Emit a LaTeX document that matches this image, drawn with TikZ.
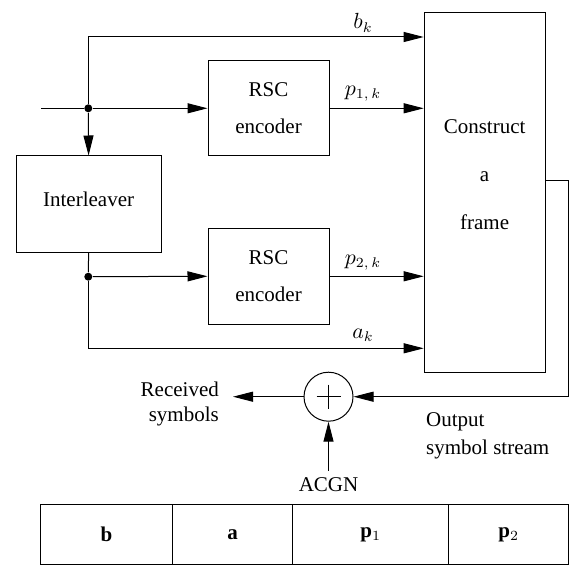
\documentclass[tikz,border=0pt]{standalone}
\usepackage{fontspec}
\setmainfont{Liberation Serif}
\newfontfamily\tnr{Liberation Serif}
\usetikzlibrary{arrows.meta}
\begin{document}
\begin{tikzpicture}[x=0.5pt,y=-0.5pt, line width=0.5pt,
  every node/.style={font=\tnr\fontsize{10.5}{12.6}\selectfont},
  box/.style={draw, inner sep=0pt, align=center},
  arr/.style={-{Triangle[length=10pt,width=5pt]}},
  dotc/.style={circle, fill, inner sep=0pt, minimum size=4pt},
  cell/.style={draw, inner sep=0pt, minimum height=29.8pt}]
\useasboundingbox (0,0) rectangle (576,571);
% blocks
\node[box, minimum width=60.5pt, minimum height=47.7pt, font=\tnr\fontsize{10.5}{18.5}\selectfont] (rsc1) at (268.5,108.3) {RSC\\encoder};
\node[box, minimum width=60.5pt, minimum height=47.7pt, font=\tnr\fontsize{10.5}{18.5}\selectfont] (rsc2) at (268.5,276.3) {RSC\\encoder};
\node[box, minimum width=72.4pt, minimum height=48pt] (inter) at (88.6,204) {};
\node (intertxt) at (88.6,199) {Interleaver};
\node[box, minimum width=60.4pt, minimum height=180pt] (cons) at (484.6,192.7) {};
\node[align=center, font=\tnr\fontsize{10.5}{24}\selectfont] (constxt) at (484.6,175) {Construct\\a\\frame};
\node[draw, circle, minimum size=24.5pt, inner sep=0pt] (sum) at (328.5,396.7) {};
\draw (sum.center) +(-12,0) -- +(12,0);
\draw (sum.center) +(0,-12) -- +(0,12);
% junctions
\node[dotc] (d1) at (88.3,108.3) {};
\node[dotc] (d2) at (88.3,276.7) {};
\coordinate (in) at (41,108.3);
% connectors
\draw (in) -- (d1);
\draw[arr] (d1) -- (rsc1.west);
\draw[arr] (d1) -- (inter.north);
\draw[arr] (d1) |- (cons.west |- 0,37);
\draw (inter.south) -- (d2);
\draw[arr] (d2) -- (rsc2.west);
\draw[arr] (d2) |- (cons.west |- 0,348.3);
\draw[arr] (rsc1.east) -- (rsc1.east -| cons.west);
\draw[arr] (rsc2.east) -- (rsc2.east -| cons.west);
\coordinate (oc) at (568.3,181);
\draw[arr] (cons.east |- oc) -- (oc) |- (sum.east);
\coordinate (rtip) at (233,396.7);
\draw[arr] (sum.west) -- (rtip);
\node (acgn) at (328.5,485) {ACGN};
\draw[arr] (acgn.north) -- (sum.south);
% labels
\node (lbk) at (363,23) {$b_k$};
\node (lp1) at (363,94) {$p_{1,\,k}$};
\node (lp2) at (363,263) {$p_{2,\,k}$};
\node (lak) at (363,335) {$a_k$};
\node[align=right, anchor=base east] (recv) at (226,421.5) {Received\\symbols};
\node[align=left, anchor=base west, font=\tnr\fontsize{10.5}{13.8}\selectfont] (outl) at (419,454) {Output\\symbol stream};
% frame
\node[cell, minimum width=65.8pt] (cb) at (106.5,534.5) {$\mathbf{b}$};
\node[cell, minimum width=60.2pt] (ca) at (232.5,534.5) {$\mathbf{a}$};
\node[cell, minimum width=78pt] (cp1) at (370.7,534.5) {$\mathbf{p}_1$};
\node[cell, minimum width=60pt] (cp2) at (508.7,534.5) {$\mathbf{p}_2$};
\end{tikzpicture}
\end{document}
